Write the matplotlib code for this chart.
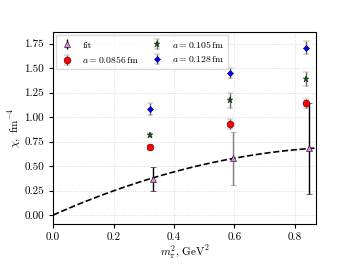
import matplotlib
matplotlib.use("Agg")
import matplotlib.pyplot as plt
import numpy as np

plt.rcParams['font.family'] = 'serif'
plt.rcParams['font.serif'] = ['cmr10', 'DejaVu Serif']
plt.rcParams['mathtext.fontset'] = 'cm'
plt.rcParams['axes.formatter.use_mathtext'] = True
plt.rcParams['axes.unicode_minus'] = False

# data
mpi2 = [0.32, 0.586, 0.837]
mpi2_fit = [0.329, 0.596, 0.847]
chi_a0856 = [0.69, 0.93, 1.14]
err_a0856 = [0.03, 0.05, 0.05]
chi_a105 = [0.82, 1.17, 1.39]
err_a105 = [0.02, 0.08, 0.07]
chi_a128 = [1.08, 1.45, 1.71]
err_a128 = [0.06, 0.05, 0.07]
chi_fit = [0.37, 0.58, 0.68]
err_fit = [0.12, 0.27, 0.46]
fit_ecolors = ['black', 'grey', 'black']
fit_coef = [1.371, -0.672]  # chi = c1*x + c2*x^2

fig = plt.figure(figsize=(3.52, 2.64), dpi=100)
ax = fig.add_axes([0.151, 0.152, 0.747, 0.727])

xx = np.linspace(0, 0.87, 100)
ax.plot(xx, fit_coef[0] * xx + fit_coef[1] * xx**2, '--', color='black', lw=1.2, zorder=2)

for i in range(len(mpi2_fit)):
    ax.errorbar(mpi2_fit[i], chi_fit[i], yerr=err_fit[i], fmt='^', ms=4.5,
                mfc='violet', mec='black', mew=0.4, ecolor=fit_ecolors[i],
                elinewidth=1, capsize=2, capthick=1, zorder=3)
h_fit = ax.errorbar([], [], yerr=[], fmt='^', ms=4.5, mfc='violet', mec='black',
                    mew=0.4, ecolor='black', elinewidth=1, capsize=2, label='fit')
ax.errorbar(mpi2, chi_a0856, yerr=err_a0856, fmt='o', ms=5, mfc='red', mec='black',
            mew=0.3, ecolor='dimgray', elinewidth=1, capsize=2, capthick=1,
            label=r'$a = 0.0856\,\mathrm{fm}$', zorder=4)
ax.errorbar(mpi2, chi_a105, yerr=err_a105, fmt='*', ms=4.5, mfc='darkgreen', mec='black',
            mew=0.3, ecolor='dimgray', elinewidth=1, capsize=2, capthick=1,
            label=r'$a = 0.105\,\mathrm{fm}$', zorder=4)
ax.errorbar(mpi2, chi_a128, yerr=err_a128, fmt='D', ms=3.2, mfc='blue', mec='black',
            mew=0.3, ecolor='dimgray', elinewidth=1, capsize=2, capthick=1,
            label=r'$a = 0.128\,\mathrm{fm}$', zorder=4)

ax.set_xlim(0, 0.87)
ax.set_ylim(-0.09, 1.87)
ax.set_xticks([0.0, 0.2, 0.4, 0.6, 0.8])
ax.set_yticks([0.0, 0.25, 0.5, 0.75, 1.0, 1.25, 1.5, 1.75])
ax.set_xticklabels(['0.0', '0.2', '0.4', '0.6', '0.8'])
ax.set_yticklabels(['0.00', '0.25', '0.50', '0.75', '1.00', '1.25', '1.50', '1.75'])
ax.tick_params(labelsize=8, length=3, width=0.8)
ax.grid(True, ls=':', color='lightgray', lw=0.6)
ax.set_xlabel(r'$m_{\pi}^2$, GeV$^2$', fontsize=8, labelpad=1)
ax.set_ylabel(r'$\chi,\ \mathrm{fm}^{-4}$', fontsize=8, labelpad=1)

ax.legend(ncol=2, loc='upper left', fontsize=7, handlelength=1.5,
          handletextpad=0.8, columnspacing=1.0, borderpad=0.4,
          labelspacing=0.45, borderaxespad=0.3,
          fancybox=False, framealpha=0.8, edgecolor='lightgray')

fig.savefig('out.png', dpi=100)
